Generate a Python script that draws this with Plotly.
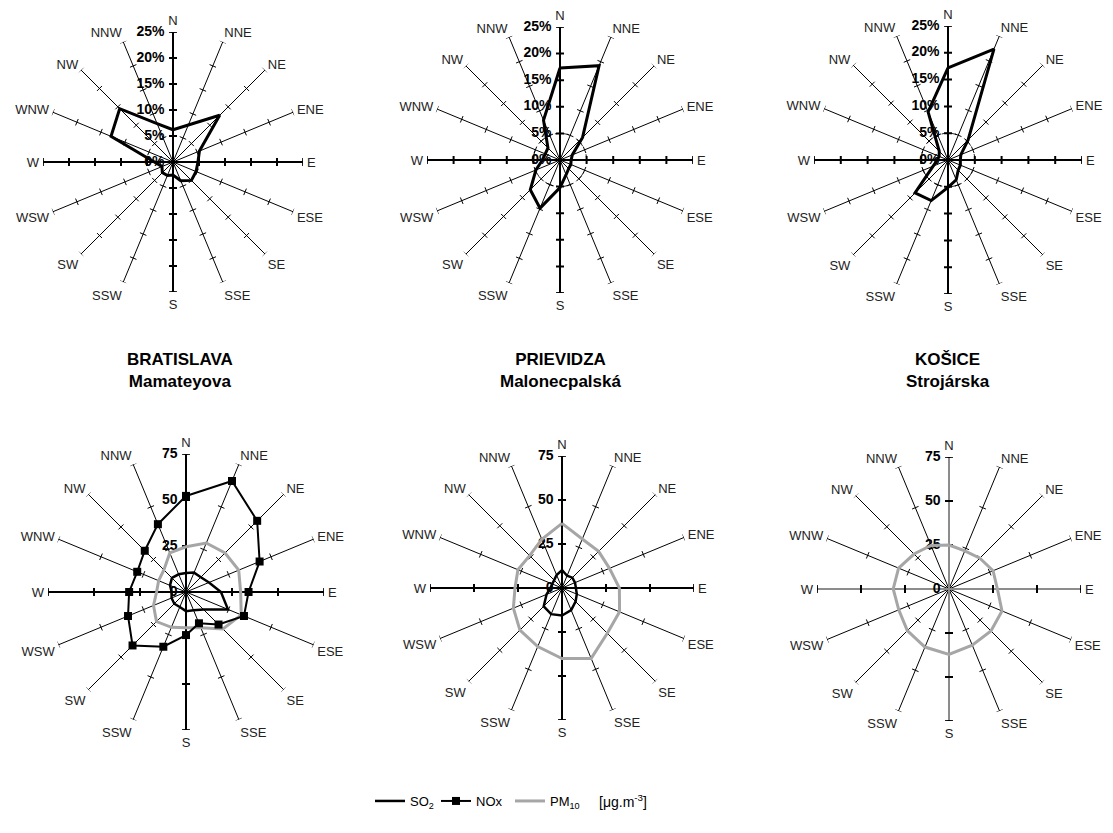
import math
import plotly.graph_objects as go

# page size and the default body margin of the html page
PAGE_W, PAGE_H = 1113, 833
OFF = 8
W, H = PAGE_W - OFF, PAGE_H - OFF

directions = ["N", "NNE", "NE", "ENE", "E", "ESE", "SE", "SSE",
              "S", "SSW", "SW", "WSW", "W", "WNW", "NW", "NNW"]
angles = [i * 22.5 for i in range(16)]

# wind direction frequency [%]
wind_bratislava = [6.2, 7.7, 12.7, 5.5, 4.8, 4.8, 5.0, 3.9, 2.5, 2.8, 2.9, 2.3, 3.6, 12.9, 14.5, 8.0]
wind_prievidza = [17.3, 19.2, 6.0, 2.5, 2.1, 2.2, 2.3, 3.0, 5.2, 9.8, 7.9, 4.9, 3.3, 3.0, 3.2, 8.1]
wind_kosice = [17.2, 22.4, 5.3, 2.6, 2.3, 2.5, 2.7, 4.0, 5.1, 8.2, 8.7, 3.0, 2.0, 1.8, 2.3, 9.7]

# concentrations [ug.m-3]
so2_bratislava = [10.3, 11.4, 11.4, 13.5, 19.0, 24.7, 13.5, 10.7, 10.4, 8.8, 9.0, 8.5, 7.8, 9.4, 10.8, 10.4]
nox_bratislava = [52.2, 65.3, 54.7, 43.3, 34.0, 34.1, 25.0, 18.4, 23.4, 32.2, 41.1, 34.1, 30.9, 28.7, 31.7, 39.9]
pm10_bratislava = [24.6, 28.8, 30.0, 31.0, 29.7, 32.5, 28.4, 21.0, 19.4, 20.8, 22.7, 19.1, 16.0, 16.1, 17.0, 23.0]
so2_prievidza = [10.2, 7.5, 8.3, 8.0, 7.9, 9.1, 10.9, 13.6, 15.6, 16.1, 14.7, 9.5, 6.6, 6.0, 6.3, 8.0]
pm10_prievidza = [36.7, 30.1, 29.4, 29.2, 32.6, 35.4, 36.4, 43.3, 40.1, 36.0, 33.8, 29.9, 26.7, 27.1, 26.0, 30.0]
pm10_kosice = [25.0, 23.5, 24.8, 27.1, 27.5, 32.6, 33.7, 34.5, 37.2, 35.7, 33.5, 30.9, 31.7, 31.0, 28.1, 26.8]

pct_ticks = [0, 5, 10, 15, 20, 25]
pct_labels = ["0%", "5%", "10%", "15%", "20%", "25%"]
conc_ticks = [0, 25, 50, 75]
conc_labels = ["0", "25", "50", "75"]

station_names = ["BRATISLAVA", "PRIEVIDZA", "KOŠICE"]
station_streets = ["Mamateyova", "Malonecpalská", "Strojárska"]

FONT = "Liberation Sans, Arial, sans-serif"

# subplot layout on the page: (center x, center y, radius) in px
panels = [
    (173, 162, 130), (560, 160, 133), (948, 160, 134),
    (186, 592, 138), (562, 588, 132), (949, 589, 132),
]


def fx(x):
    return (x - OFF) / W


def fy(y):
    return 1 - (y - OFF) / H


fig = go.Figure()


def closed(v):
    return list(v) + [v[0]]


theta_closed = angles + [angles[0]]


def tick_trace(sp, tickvals, half_px, px_per_unit, dirs, width, color):
    half = half_px / px_per_unit
    r, th = [], []
    for a in dirs:
        for t in tickvals:
            if t == 0:
                continue
            rr = math.hypot(t, half)
            d = math.degrees(math.atan2(half, t))
            r += [rr, rr, None]
            th += [a - d, a + d, None]
    return go.Scatterpolar(r=r, theta=th, mode="lines", subplot=sp,
                           line=dict(color=color, width=width),
                           showlegend=False, hoverinfo="skip")


for i, (cx, cy, R) in enumerate(panels):
    sp = "polar" if i == 0 else f"polar{i + 1}"
    top = i < 3
    ticks = pct_ticks if top else conc_ticks
    labels = pct_labels if top else conc_labels
    rmax = ticks[-1]
    ppu = R / rmax
    minor_dirs = [a for a in angles if a % 90 != 0]
    major_dirs = [0, 90, 180, 270]
    axis_col = "#8c8c8c" if i == 5 else "black"

    # thick main axes (N-S, W-E)
    ar, at = [], []
    for a in major_dirs:
        ar += [0, rmax, None]
        at += [a, a, None]
    fig.add_trace(go.Scatterpolar(r=ar, theta=at, mode="lines", subplot=sp,
                                  line=dict(color=axis_col, width=2),
                                  showlegend=False, hoverinfo="skip"))
    fig.add_trace(tick_trace(sp, ticks, 3.5, ppu, minor_dirs, 1, "black"))
    fig.add_trace(tick_trace(sp, ticks, 4, ppu, major_dirs, 2, "black"))

    # dashed 5 % circle
    if i in (1, 2):
        circ_t = [k * 3 for k in range(121)]
        fig.add_trace(go.Scatterpolar(r=[5] * len(circ_t), theta=circ_t, mode="lines",
                                      subplot=sp, line=dict(color="black", width=1, dash="dash"),
                                      showlegend=False, hoverinfo="skip"))

    # radial value labels
    fig.add_trace(go.Scatterpolar(r=ticks, theta=[0] * len(ticks), mode="markers+text",
                                  subplot=sp, text=[f"<b>{s}</b>" for s in labels],
                                  textposition="middle left",
                                  marker=dict(size=12, color="rgba(0,0,0,0)"),
                                  textfont=dict(family=FONT, size=14, color="black"),
                                  showlegend=False, hoverinfo="skip"))

    fig.layout[sp] = dict(
        domain=dict(x=[fx(cx - R), fx(cx + R)], y=[fy(cy + R), fy(cy - R)]),
        bgcolor="rgba(0,0,0,0)",
        radialaxis=dict(range=[0, rmax], showgrid=False, showline=False,
                        showticklabels=False, ticks=""),
        angularaxis=dict(rotation=90, direction="clockwise", tickmode="array",
                         tickvals=angles, ticktext=directions, showgrid=True,
                         gridcolor="black", gridwidth=1, showline=False,
                         ticks="outside", ticklen=1, tickcolor="rgba(0,0,0,0)",
                         tickfont=dict(family=FONT, size=13, color="#222222")),
    )

# wind roses
for i, vals in enumerate([wind_bratislava, wind_prievidza, wind_kosice]):
    sp = "polar" if i == 0 else f"polar{i + 1}"
    fig.add_trace(go.Scatterpolar(r=closed(vals), theta=theta_closed, mode="lines",
                                  subplot=sp, line=dict(color="black", width=3),
                                  showlegend=False, hoverinfo="skip"))

# concentration roses
GRAY = "#a6a6a6"
fig.add_trace(go.Scatterpolar(r=closed(pm10_bratislava), theta=theta_closed, mode="lines",
                              subplot="polar4", line=dict(color=GRAY, width=3),
                              name="PM<sub>10</sub>", legend="legend3", hoverinfo="skip"))
fig.add_trace(go.Scatterpolar(r=closed(so2_bratislava), theta=theta_closed, mode="lines",
                              subplot="polar4", line=dict(color="black", width=2.5),
                              name="SO<sub>2</sub>", legend="legend", hoverinfo="skip"))
fig.add_trace(go.Scatterpolar(r=closed(nox_bratislava), theta=theta_closed, mode="lines+markers",
                              subplot="polar4", line=dict(color="black", width=2),
                              marker=dict(symbol="square", size=8, color="black"),
                              name="NOx", legend="legend2", hoverinfo="skip"))
fig.add_trace(go.Scatterpolar(r=closed(pm10_prievidza), theta=theta_closed, mode="lines",
                              subplot="polar5", line=dict(color=GRAY, width=3),
                              showlegend=False, hoverinfo="skip"))
fig.add_trace(go.Scatterpolar(r=closed(so2_prievidza), theta=theta_closed, mode="lines",
                              subplot="polar5", line=dict(color="black", width=2.5),
                              showlegend=False, hoverinfo="skip"))
fig.add_trace(go.Scatterpolar(r=closed(pm10_kosice), theta=theta_closed, mode="lines",
                              subplot="polar6", line=dict(color=GRAY, width=3),
                              showlegend=False, hoverinfo="skip"))

# station titles
annotations = []
title_x = [180, 560, 948]
for k in range(3):
    annotations.append(dict(
        x=fx(title_x[k]), y=fy(371), xref="paper", yref="paper",
        text=f"<b>{station_names[k]}</b><br><b>{station_streets[k]}</b>",
        showarrow=False, xanchor="center", yanchor="middle",
        font=dict(family=FONT, size=17, color="black")))
annotations.append(dict(
    x=fx(597), y=fy(801), xref="paper", yref="paper",
    text="[μg.m<sup>-3</sup>]", showarrow=False, xanchor="left", yanchor="middle",
    font=dict(family=FONT, size=14, color="black")))


def legend_box(x_page):
    return dict(orientation="h", x=fx(x_page), y=fy(801), xanchor="left", yanchor="middle",
                font=dict(family=FONT, size=13, color="black"), itemwidth=30,
                bgcolor="rgba(0,0,0,0)")


fig.update_layout(
    width=W, height=H,
    margin=dict(l=0, r=0, t=0, b=0),
    paper_bgcolor="white", plot_bgcolor="white",
    font=dict(family=FONT, size=13, color="black"),
    showlegend=True,
    legend=legend_box(370),
    legend2=legend_box(436),
    legend3=legend_box(510),
    annotations=annotations,
)

fig.write_html("out.html")
